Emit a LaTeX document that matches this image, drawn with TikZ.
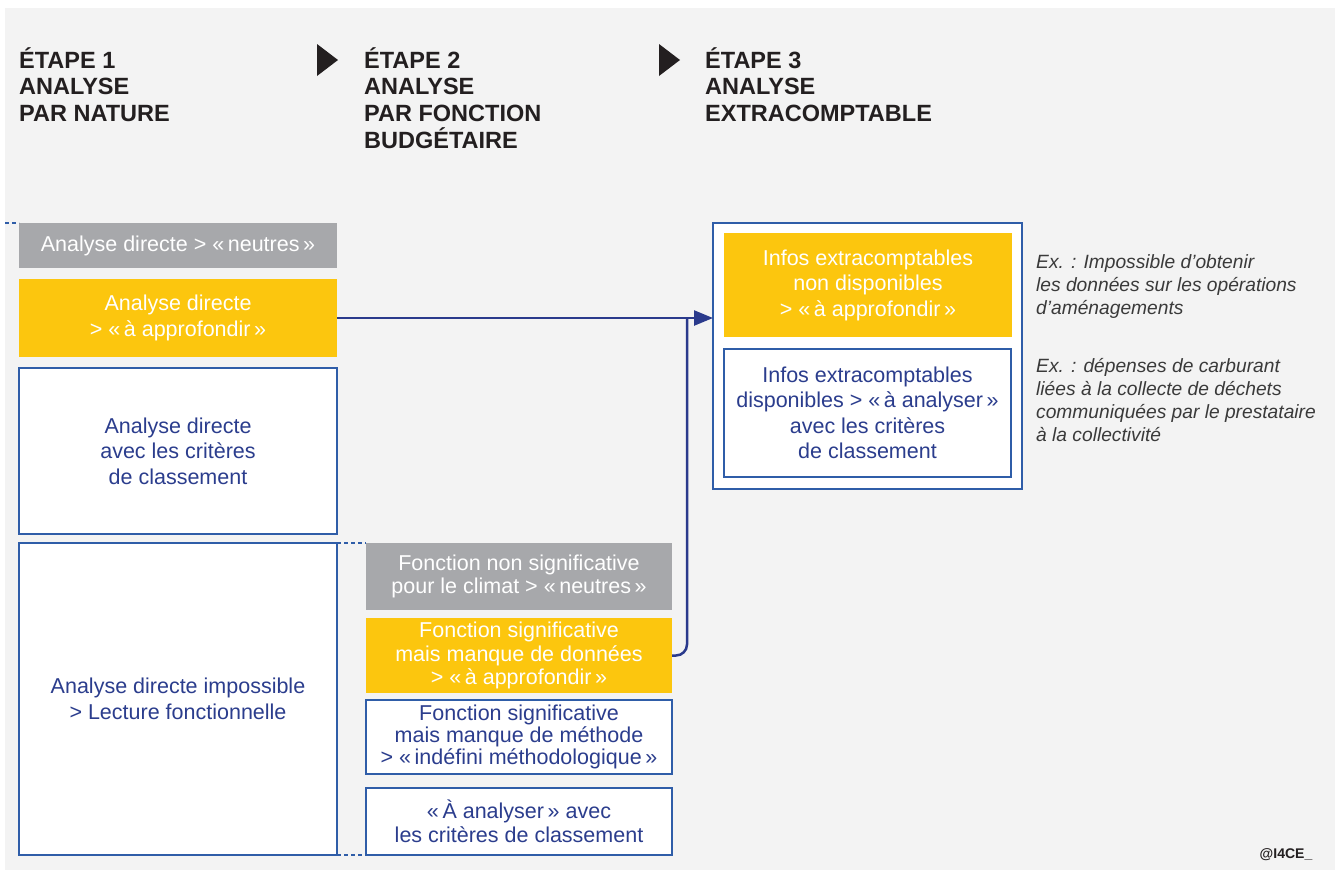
\documentclass[tikz,border=0pt]{standalone}
\usepackage{fontspec}
\setmainfont{Liberation Sans}
\usetikzlibrary{arrows.meta}
\definecolor{panel}{RGB}{243,243,243}
\definecolor{boxgray}{RGB}{167,168,171}
\definecolor{boxorange}{RGB}{252,198,14}
\definecolor{bordblue}{RGB}{47,93,168}
\definecolor{txtblue}{RGB}{43,61,141}
\definecolor{arrblue}{RGB}{42,58,140}
\definecolor{darktxt}{RGB}{35,31,32}
\definecolor{notetxt}{RGB}{58,58,58}
\begin{document}
\begin{tikzpicture}[x=1pt,y=-1pt,
  basebox/.style={inner sep=0pt, outer sep=0pt, align=center,
    font=\fontsize{21.5}{25.5}\selectfont},
  graybox/.style={basebox, fill=boxgray, text=white},
  orangebox/.style={basebox, fill=boxorange, text=white},
  whitebox/.style={basebox, fill=white, draw=bordblue, line width=1.5pt, text=txtblue},
  tight/.style={font=\fontsize{21.5}{23.5}\selectfont},
  hdr/.style={anchor=north west, inner sep=0pt, align=left, text=darktxt,
    font=\bfseries\fontsize{23.5}{26.7}\selectfont},
  note/.style={anchor=north west, inner sep=0pt, align=left, text=notetxt,
    font=\itshape\fontsize{19.2}{23}\selectfont},
  conn/.style={draw=arrblue, line width=2.5pt},
  tip/.style={-{Triangle[length=19pt,width=15pt]}},
  dashguide/.style={draw=bordblue, line width=1.2pt, dash pattern=on 4pt off 3pt},
  tri/.style={fill=darktxt}
]
\useasboundingbox (0,0) rectangle (1335,876);
\fill[panel] (5,8) rectangle (1335,870);

% headers
\node[hdr] (h1) at (19,47) {ÉTAPE 1\\ANALYSE\\PAR NATURE};
\node[hdr] (h2) at (364,47) {ÉTAPE 2\\ANALYSE\\PAR FONCTION\\BUDGÉTAIRE};
\node[hdr] (h3) at (705,47) {ÉTAPE 3\\ANALYSE\\EXTRACOMPTABLE};
\fill[tri] (317,44) -- (338,60) -- (317,76) -- cycle;
\fill[tri] (659,44) -- (680,60) -- (659,76) -- cycle;

% step 1
\node[graybox, minimum width=318pt, minimum height=45pt] (g1) at (178,245.5)
  {Analyse directe > «\,neutres\,»};
\node[orangebox, minimum width=318pt, minimum height=78pt] (o1) at (178,318)
  {Analyse directe\\> «\,à approfondir\,»};
\node[whitebox, minimum width=318pt, minimum height=166pt] (w1) at (178,451)
  {Analyse directe\\avec les critères\\de classement};
\node[whitebox, minimum width=318pt, minimum height=312pt] (w2) at (178,699)
  {Analyse directe impossible\\> Lecture fonctionnelle};

% step 2
\node[graybox, tight, minimum width=306pt, minimum height=67pt] (f1) at (519,576.5)
  {Fonction non significative\\pour le climat > «\,neutres\,»};
\node[orangebox, tight, minimum width=306pt, minimum height=75pt] (f2) at (519,655.5)
  {Fonction significative\\mais manque de données\\> «\,à approfondir\,»};
\node[whitebox, font=\fontsize{21.5}{22}\selectfont, minimum width=306pt, minimum height=74pt] (f3) at (519,737)
  {Fonction significative\\mais manque de méthode\\> «\,indéfini méthodologique\,»};
\node[whitebox, tight, minimum width=306pt, minimum height=67pt] (f4) at (519,821.5)
  {«\,À analyser\,» avec\\les critères de classement};

% step 3
\node[whitebox, minimum width=309pt, minimum height=266pt] (s3) at (867.5,356) {};
\node[orangebox, minimum width=288pt, minimum height=104pt] (i1) at (868,285)
  {Infos extracomptables\\non disponibles\\> «\,à approfondir\,»};
\node[whitebox, minimum width=287pt, minimum height=128pt] (i2) at (867.5,413)
  {Infos extracomptables\\disponibles > «\,à analyser\,»\\avec les critères\\de classement};

% notes
\node[note] (n1) at (1036,254.5) {Ex. : Impossible d’obtenir\\les données sur les opérations\\d’aménagements};
\node[note] (n2) at (1036,358.5) {Ex. : dépenses de carburant\\liées à la collecte de déchets\\communiquées par le prestataire\\à la collectivité};

\node[inner sep=0pt, text=darktxt, font=\bfseries\fontsize{14}{16}\selectfont] (cr) at (1286,855) {@I4CE\_};

% dashed guides
\coordinate (pl) at (5,223);
\draw[dashguide] (pl) -- (g1.north west);
\draw[dashguide] (w2.north east) -- (f1.north west);
\draw[dashguide] (w2.south east) -- (f4.south west);

% connectors
\coordinate (j) at (687,318);
\draw[conn, tip] (o1.east) -- (o1.east -| s3.west);
\draw[conn, rounded corners=11pt] (f2.east) -| (j);
\end{tikzpicture}
\end{document}
